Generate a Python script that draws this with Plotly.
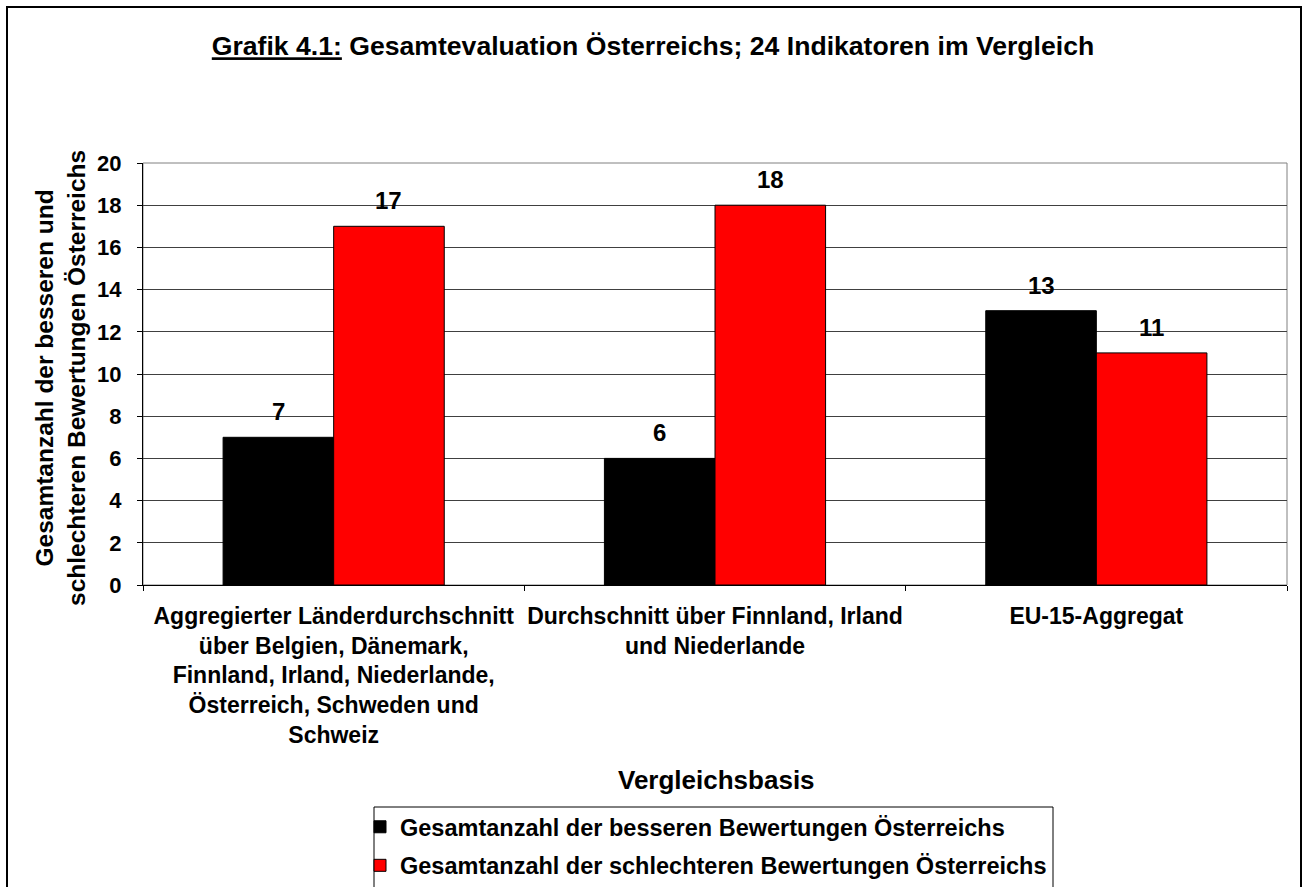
import plotly.graph_objects as go

categories = [
    "Aggregierter Länderdurchschnitt<br>über Belgien, Dänemark,<br>Finnland, Irland, Niederlande,<br>Österreich, Schweden und<br>Schweiz",
    "Durchschnitt über Finnland, Irland<br>und Niederlande",
    "EU-15-Aggregat",
]
series_names = [
    "Gesamtanzahl der besseren Bewertungen Österreichs",
    "Gesamtanzahl der schlechteren Bewertungen Österreichs",
]
besser = [7, 6, 13]
schlechter = [17, 18, 11]
y_ticks = [0, 2, 4, 6, 8, 10, 12, 14, 16, 18, 20]

FONT = "Liberation Sans, Arial, sans-serif"
W, H = 1306, 887
ML, MR, MT, MB = 143, 19, 163, 302
PW = W - ML - MR
PH = H - MT - MB
BARGAP = 0.42


def px_x(px):
    return (px - ML) / PW


def px_y(py):
    return (H - MB - py) / PH


fig = go.Figure()
colors = ["#000000", "#FF0000"]
for i, (name, vals) in enumerate(zip(series_names, [besser, schlechter])):
    fig.add_trace(go.Bar(
        x=categories, y=vals, name=name,
        marker=dict(color=colors[i], line=dict(color="#000000", width=1)),
        legendgroup=f"g{i}",
    ))

# value labels above bars
bar_w = PW / len(categories) * (1 - BARGAP) / 2
annotations = []
for i, vals in enumerate([besser, schlechter]):
    shift = -bar_w / 2 if i == 0 else bar_w / 2
    for c, v in zip(categories, vals):
        annotations.append(dict(
            x=c, y=v, xref="x", yref="y", text=str(v), showarrow=False,
            xshift=shift, yshift=10, yanchor="bottom",
            font=dict(family=FONT, size=24, color="#000", weight="bold"),
        ))

annotations.append(dict(
    x=px_x(60), y=px_y(378), xref="paper", yref="paper",
    text="Gesamtanzahl der besseren und<br>schlechteren Bewertungen Österreichs",
    textangle=-90, showarrow=False, xanchor="center", yanchor="middle",
    font=dict(family=FONT, size=24.5, color="#000", weight="bold"),
))
annotations.append(dict(
    x=px_x(716), y=px_y(780), xref="paper", yref="paper",
    text="Vergleichsbasis", showarrow=False, xanchor="center", yanchor="middle",
    font=dict(family=FONT, size=26, color="#000", weight="bold"),
))

shapes = [
    # outer chart frame (cut at the bottom)
    dict(type="rect", xref="paper", yref="paper",
         x0=px_x(7), x1=px_x(1301), y0=px_y(960), y1=px_y(7),
         line=dict(color="#000", width=2), layer="above"),
    # legend box
    dict(type="rect", xref="paper", yref="paper",
         x0=px_x(374), x1=px_x(1053), y0=px_y(960), y1=px_y(807),
         line=dict(color="#000", width=1), layer="above"),
    # plot area frame (gray)
    dict(type="rect", xref="paper", yref="paper", x0=0, x1=1, y0=0, y1=1,
         line=dict(color="#808080", width=1), layer="below"),
]

fig.update_layout(
    width=W, height=H,
    margin=dict(l=ML, r=MR, t=MT, b=MB, autoexpand=False),
    paper_bgcolor="#FFFFFF", plot_bgcolor="#FFFFFF",
    barmode="group", bargap=BARGAP, bargroupgap=0,
    font=dict(family=FONT, color="#000"),
    title=dict(
        text="<b><span style='text-decoration:underline'>Grafik 4.1:</span> Gesamtevaluation Österreichs; 24 Indikatoren im Vergleich</b>",
        x=0.5, xref="container", xanchor="center",
        y=1 - 46 / H, yref="container", yanchor="middle",
        font=dict(family=FONT, size=26.6, color="#000"),
    ),
    xaxis=dict(
        showline=True, linecolor="#000", linewidth=1,
        ticks="outside", ticklen=5, tickcolor="#000", tickson="boundaries",
        ticklabelstandoff=10, tickangle=0,
        tickfont=dict(family=FONT, size=23, color="#000", weight="bold"),
        showgrid=False, fixedrange=True,
    ),
    yaxis=dict(
        range=[0, 20], tickvals=y_ticks,
        showline=True, linecolor="#000", linewidth=1,
        ticks="outside", ticklen=5, tickcolor="#000",
        ticklabelstandoff=11,
        tickfont=dict(family=FONT, size=22, color="#000", weight="bold"),
        showgrid=True, gridcolor="#404040", gridwidth=1,
        zeroline=False, fixedrange=True,
    ),
    legend=dict(
        x=px_x(360), y=px_y(805), xanchor="left", yanchor="top",
        traceorder="grouped", tracegroupgap=5,
        font=dict(family=FONT, size=23.5, color="#000", weight="bold"),
        bgcolor="rgba(0,0,0,0)", borderwidth=0, itemwidth=30,
    ),
    showlegend=True,
    annotations=annotations,
    shapes=shapes,
)

fig.write_html(
    "out.html",
    config={"displayModeBar": False},
    post_script="document.body.style.margin='0';document.body.style.padding='0';",
)
